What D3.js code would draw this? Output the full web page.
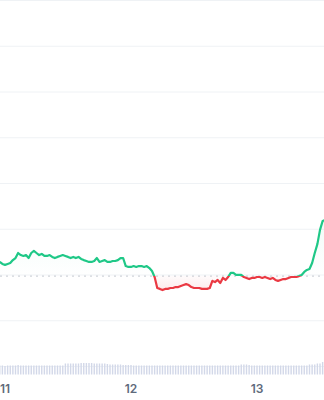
<!DOCTYPE html>
<html>
<head>
<meta charset="utf-8">
<script src="https://cdn.jsdelivr.net/npm/d3@7"></script>
<style>
  body { margin: 0; background: #fff; }
  text { font-family: Inter, "Noto Sans", sans-serif; }
</style>
</head>
<body>
<div id="container"></div>
<script>
// VARIABLES

const width = 324,
      height = 400,
      green = "#1fc887",
      red = "#ea3943"

// DATA

// half-hourly samples starting 10th 23:00
const startTime = new Date(2024, 0, 10, 23, 0)
const stepMinutes = 30

const prices = [
  0.9655, 0.9646, 0.9642, 0.9646, 0.9650, 0.9663, 0.9672, 0.9694, 0.9685, 0.9681,
  0.9685, 0.9672, 0.9694, 0.9703, 0.9694, 0.9685, 0.9690, 0.9681, 0.9681, 0.9685,
  0.9677, 0.9672, 0.9677, 0.9681, 0.9685, 0.9681, 0.9677, 0.9672, 0.9677, 0.9672,
  0.9677, 0.9668, 0.9663, 0.9659, 0.9655, 0.9655, 0.9659, 0.9672, 0.9655, 0.9659,
  0.9663, 0.9655, 0.9655, 0.9659, 0.9659, 0.9663, 0.9672, 0.9672, 0.9637, 0.9633,
  0.9633, 0.9637, 0.9633, 0.9637, 0.9637, 0.9633, 0.9637, 0.9628, 0.9615, 0.9589,
  0.9541, 0.9537, 0.9532, 0.9537, 0.9537, 0.9541, 0.9541, 0.9545, 0.9545, 0.9550,
  0.9554, 0.9558, 0.9554, 0.9545, 0.9541, 0.9541, 0.9541, 0.9537, 0.9537, 0.9537,
  0.9541, 0.9572, 0.9567, 0.9576, 0.9563, 0.9585, 0.9576, 0.9589, 0.9607, 0.9607,
  0.9598, 0.9598, 0.9598, 0.9589, 0.9585, 0.9580, 0.9585, 0.9585, 0.9589, 0.9589,
  0.9585, 0.9589, 0.9585, 0.9580, 0.9585, 0.9576, 0.9572, 0.9576, 0.9580, 0.9580,
  0.9585, 0.9589, 0.9589, 0.9589, 0.9593, 0.9598, 0.9611, 0.9620, 0.9624, 0.9650,
  0.9694, 0.9733, 0.9795, 0.9834, 0.9838
]

// volume, millions
const volumes = [
  18, 18, 17, 18, 18, 18, 18, 19, 18, 18,
  18, 18, 18, 18, 18, 18, 18, 18, 18, 18,
  18, 18, 18, 18, 18, 22, 22, 22, 22, 22,
  22, 23, 23, 23, 23, 23, 22, 22, 22, 22,
  22, 21, 20, 20, 20, 20, 20, 19, 19, 19,
  19, 18, 18, 18, 18, 18, 18, 18, 18, 18,
  18, 18, 18, 18, 18, 18, 18, 18, 18, 18,
  18, 18, 18, 18, 18, 18, 18, 18, 18, 18,
  18, 18, 18, 18, 18, 18, 18, 18, 18, 18,
  18, 18, 20, 20, 20, 19, 18, 18, 18, 18,
  18, 18, 18, 18, 18, 18, 18, 18, 18, 18,
  18, 18, 18, 18, 18, 18, 18, 18, 20, 20,
  20, 22, 22, 25, 26
]

const baselinePrice = 0.9593
const gridValues = [0.92, 0.94, 0.96, 0.98, 1.00, 1.02, 1.04, 1.06, 1.08]
const tickDays = [11, 12, 13]

const data = prices.map((p, i) => ({
  date: new Date(startTime.getTime() + i * stepMinutes * 60000),
  price: p,
  volume: volumes[i]
}))

// SCALES

const xScale = d3.scaleTime()
    .domain([new Date(2024, 0, 11), new Date(2024, 0, 13)])
    .range([5, 257])

const yScale = d3.scaleLinear()
    .domain([0.92, 1.08])
    .range([366, 0])

const volScale = d3.scaleLinear()
    .domain([0, 40])
    .range([374.5, 354.5])

// ELEMENTS

const svg = d3.select("#container")
  .append("svg")
    .attr("width", width)
    .attr("height", height)

const defs = svg.append("defs")
const baseY = yScale(baselinePrice)

defs.append("clipPath").attr("id", "above")
  .append("rect").attr("x", -10).attr("y", -10).attr("width", width + 20).attr("height", baseY + 10)
defs.append("clipPath").attr("id", "below")
  .append("rect").attr("x", -10).attr("y", baseY).attr("width", width + 20).attr("height", height)

const gUp = defs.append("linearGradient").attr("id", "gUp")
    .attr("gradientUnits", "userSpaceOnUse")
    .attr("x1", 0).attr("x2", 0).attr("y1", yScale(d3.max(prices))).attr("y2", baseY)
gUp.append("stop").attr("offset", 0).attr("stop-color", green).attr("stop-opacity", 0.06)
gUp.append("stop").attr("offset", 1).attr("stop-color", green).attr("stop-opacity", 0.0)

const gDown = defs.append("linearGradient").attr("id", "gDown")
    .attr("gradientUnits", "userSpaceOnUse")
    .attr("x1", 0).attr("x2", 0).attr("y1", baseY).attr("y2", yScale(d3.min(prices)))
gDown.append("stop").attr("offset", 0).attr("stop-color", red).attr("stop-opacity", 0.02)
gDown.append("stop").attr("offset", 1).attr("stop-color", red).attr("stop-opacity", 0.1)

// grid
svg.append("g")
  .selectAll("line")
  .data(gridValues)
  .join("line")
    .attr("x1", 0)
    .attr("x2", width)
    .attr("y1", d => yScale(d) + 0.5)
    .attr("y2", d => yScale(d) + 0.5)
    .attr("stroke", "#eff2f5")
    .attr("stroke-width", 1)

// volume bars
svg.append("g")
  .selectAll("rect")
  .data(data)
  .join("rect")
    .attr("x", d => xScale(d.date) - 0.7)
    .attr("width", 1.4)
    .attr("y", d => volScale(d.volume))
    .attr("height", d => volScale(0) - volScale(d.volume))
    .attr("fill", "#d2d8e8")

// baseline
svg.append("line")
    .attr("x1", 0)
    .attr("x2", width)
    .attr("y1", baseY)
    .attr("y2", baseY)
    .attr("stroke", "#c4c9d1")
    .attr("stroke-width", 1)
    .attr("stroke-dasharray", "2,4")

// area + line
const area = d3.area()
    .x(d => xScale(d.date))
    .y0(baseY)
    .y1(d => yScale(d.price))

const line = d3.line()
    .x(d => xScale(d.date))
    .y(d => yScale(d.price))

svg.append("path").datum(data)
    .attr("d", area).attr("fill", "url(#gUp)").attr("clip-path", "url(#above)")
svg.append("path").datum(data)
    .attr("d", area).attr("fill", "url(#gDown)").attr("clip-path", "url(#below)")

svg.append("path").datum(data)
    .attr("d", line).attr("fill", "none").attr("stroke", green)
    .attr("stroke-width", 2.2).attr("stroke-linejoin", "round")
    .attr("clip-path", "url(#above)")
svg.append("path").datum(data)
    .attr("d", line).attr("fill", "none").attr("stroke", red)
    .attr("stroke-width", 2.2).attr("stroke-linejoin", "round")
    .attr("clip-path", "url(#below)")

// x labels
svg.append("g")
  .selectAll("text")
  .data(tickDays)
  .join("text")
    .attr("x", d => xScale(new Date(2024, 0, d)))
    .attr("y", 393)
    .attr("text-anchor", "middle")
    .attr("font-size", 12)
    .attr("font-weight", 600)
    .attr("fill", "#5f6b7c")
    .text(d => d)
</script>
</body>
</html>
